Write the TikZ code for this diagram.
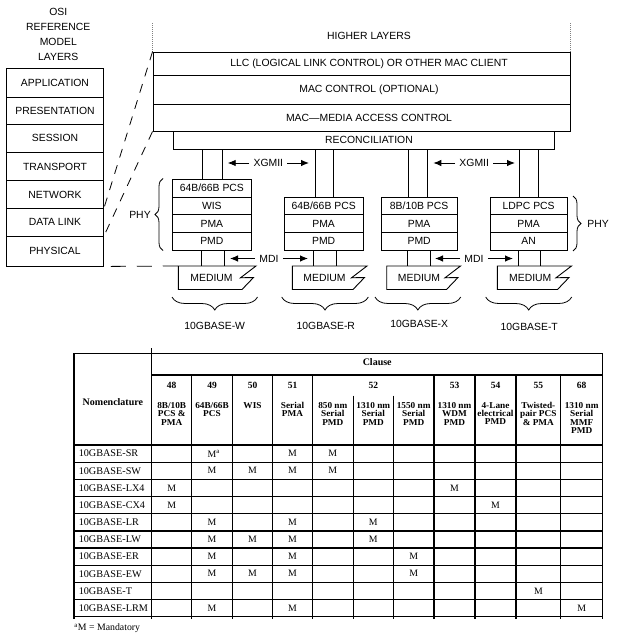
\documentclass[tikz,border=0pt]{standalone}
\usepackage{fontspec}
\setmainfont{Liberation Sans}
\newfontfamily\tms{Liberation Serif}
\newfontfamily\tmsw[FakeStretch=1.03]{Liberation Serif}
\usetikzlibrary{arrows.meta,decorations.pathreplacing}
\newcommand\bx[6]{\node[draw,inner sep=0pt,minimum width={(#4-#2)*1pt},minimum height={(#5-#3)*1pt}] (#1) at ({(#2+#4)/2},{(#3+#5)/2}) {#6};}
\newcommand\medshape[4]{%
  \coordinate (#1tl) at (#2,266);
  \draw (#1tl) -- (#3,266) -- (#3-15.5,277.8) -- (#3-2.5,277.5) -- (#3-14,289.5) -- (#2,289.5) -- cycle;
  \node (#1) at (#4,277.5) {MEDIUM};}
\begin{document}
\begin{tikzpicture}[x=1pt,y=-1pt,line width=0.9pt,font=\fontsize{10.4}{12.5}\selectfont,
  arr/.style={-{Latex[length=8pt,width=6.5pt]}},
  lbl/.style={inner sep=4pt},
  brc/.style={decorate,line width=0.8pt},
  dsh/.style={dash pattern=on 9pt off 8pt, line width=0.8pt},
  dotl/.style={gray, line width=1.3pt, dash pattern=on 1pt off 1pt},
  tl/.style={line width=1.3pt},
  thd/.style={font=\tms\bfseries\fontsize{10}{12}\selectfont, inner sep=0pt},
  tnum/.style={font=\tms\bfseries\fontsize{9.5}{11}\selectfont, inner sep=0pt},
  tdesc/.style={font=\tmsw\bfseries\fontsize{9}{8.3}\selectfont, align=center, anchor=north, inner sep=0pt},
  tdat/.style={font=\tms\fontsize{10.2}{12}\selectfont, inner sep=0pt},
  tm/.style={font=\tms\fontsize{9.8}{12}\selectfont, inner sep=0pt}]
\useasboundingbox (0,0) rectangle (618,636);

% OSI column
\node[align=center,font=\fontsize{10.4}{15}\selectfont] (osit) at (58.3,34.7) {OSI\\REFERENCE\\MODEL\\LAYERS};
\bx{osi1}{6.7}{68.3}{103.3}{97.3}{APPLICATION}
\bx{osi2}{6.7}{97.3}{103.3}{124.3}{PRESENTATION}
\bx{osi3}{6.7}{124.3}{103.3}{152.3}{SESSION}
\bx{osi4}{6.7}{152.3}{103.3}{180.7}{TRANSPORT}
\bx{osi5}{6.7}{180.7}{103.3}{208.3}{NETWORK}
\bx{osi6}{6.7}{208.3}{103.3}{236}{DATA LINK}
\bx{osi7}{6.7}{236}{103.3}{266}{PHYSICAL}

% upper layers
\node (hl) at (369,36) {HIGHER LAYERS};
\bx{llc}{153}{52}{570}{75.3}{}
\bx{macc}{153}{75.3}{570}{104.3}{}
\bx{mac}{153}{104.3}{570}{131}{}
\bx{recon}{173.3}{131}{554.3}{149.3}{}
\node (llct) at (369,0 |- llc.center) {LLC (LOGICAL LINK CONTROL) OR OTHER MAC CLIENT};
\node (macct) at (369,0 |- macc.center) {MAC CONTROL (OPTIONAL)};
\node (mact) at (369,0 |- mac.center) {MAC---MEDIA ACCESS CONTROL};
\node (recont) at (369,0 |- recon.center) {RECONCILIATION};
\draw[dotl] (llc.north west) -- (llc.north west |- 0,22);
\draw[dotl] (llc.north east) -- (llc.north east |- 0,22);

% PHY stacks
\bx{s1a}{172}{179}{251.7}{197}{64B/66B PCS}
\bx{s1b}{172}{197}{251.7}{214.5}{WIS}
\bx{s1c}{172}{214.5}{251.7}{232.5}{PMA}
\bx{s1d}{172}{232.5}{251.7}{250}{PMD}
\bx{s2a}{284}{197}{363.3}{214.5}{64B/66B PCS}
\bx{s2b}{284}{214.5}{363.3}{232.5}{PMA}
\bx{s2c}{284}{232.5}{363.3}{250}{PMD}
\bx{s3a}{381}{197}{457.3}{214.5}{8B/10B PCS}
\bx{s3b}{381}{214.5}{457.3}{232.5}{PMA}
\bx{s3c}{381}{232.5}{457.3}{250}{PMD}
\bx{s4a}{490}{197}{567.3}{214.5}{LDPC PCS}
\bx{s4b}{490}{214.5}{567.3}{232.5}{PMA}
\bx{s4c}{490}{232.5}{567.3}{250}{AN}

% media
\medshape{m1}{178.3}{256}{211.5}
\medshape{m2}{292.3}{367}{324.5}
\medshape{m3}{386.7}{460.5}{419}
\medshape{m4}{497.3}{571.5}{530.3}

% verticals
\foreach \x/\s in {202.7/s1a,222/s1a,315.5/s2a,333.3/s2a,408.5/s3a,427.7/s3a,519/s4a,538.3/s4a}
  \draw (\x,0 |- recon.south) -- (\x,0 |- \s.north);
\foreach \x/\s/\m in {201.3/s1d/m1,224/s1d/m1,313.3/s2c/m2,336/s2c/m2,407.3/s3c/m3,430/s3c/m3,518.3/s4c/m4,540.7/s4c/m4}
  \draw (\x,0 |- \s.south) -- (\x,0 |- \m tl);

% dashed correspondences
\draw[dsh] (llc.north west) -- (osi5.south east);
\draw[dsh] (mac.south west) -- (osi6.south east);
\draw[line width=0.8pt, dash pattern=on 15pt off 11pt, dash phase=19pt] (osi7.south east) -- (m1tl);

% interface arrows
\node[lbl] (xg1) at (268.3,163) {XGMII};
\coordinate (xg1l) at (227.7,163); \coordinate (xg1r) at (309,163);
\draw[arr] (xg1.west) -- (xg1l); \draw[arr] (xg1.east) -- (xg1r);
\node[lbl] (xg2) at (474.2,163) {XGMII};
\coordinate (xg2l) at (433.3,163); \coordinate (xg2r) at (515,163);
\draw[arr] (xg2.west) -- (xg2l); \draw[arr] (xg2.east) -- (xg2r);
\node[lbl] (md1) at (269,258.5) {MDI};
\coordinate (md1l) at (230,258.5); \coordinate (md1r) at (308,258.5);
\draw[arr] (md1.west) -- (md1l); \draw[arr] (md1.east) -- (md1r);
\node[lbl] (md2) at (474,258.5) {MDI};
\coordinate (md2l) at (435,258.5); \coordinate (md2r) at (513,258.5);
\draw[arr] (md2.west) -- (md2l); \draw[arr] (md2.east) -- (md2r);

% PHY braces
\coordinate (pr1) at (573,196); \coordinate (pr2) at (573,251);
\draw[brc,decoration={brace,amplitude=8pt}] (pr1) -- (pr2);
\node (phyr) at (598,224) {PHY};
\coordinate (pl1) at (163,250.5); \coordinate (pl2) at (163,178.5);
\draw[brc,decoration={brace,amplitude=8pt}] (pl1) -- (pl2);
\node (phyl) at (140,215) {PHY};

% bottom braces
\coordinate (b1r) at (257.5,297); \coordinate (b1l) at (172,297);
\draw[brc,decoration={brace,amplitude=13pt}] (b1r) -- (b1l);
\node (gw) at (214.7,325.7) {10GBASE-W};
\coordinate (b2r) at (368.3,297); \coordinate (b2l) at (281.7,297);
\draw[brc,decoration={brace,amplitude=13pt}] (b2r) -- (b2l);
\node (gr) at (325.8,325.7) {10GBASE-R};
\coordinate (b3r) at (460.7,297); \coordinate (b3l) at (375,297);
\draw[brc,decoration={brace,amplitude=13pt}] (b3r) -- (b3l);
\node (gx) at (419.2,323.5) {10GBASE-X};
\coordinate (b4r) at (571.7,297); \coordinate (b4l) at (485.7,297);
\draw[brc,decoration={brace,amplitude=13pt}] (b4r) -- (b4l);
\node (gt) at (529.2,326.5) {10GBASE-T};

% table grid
\draw[tl] (74,353.3) -- (602.7,353.3);
\draw[tl] (151.7,375) -- (602.7,375);
\foreach \i in {0,...,10} \draw[tl] (74,{445+17.17*\i}) -- (602.7,{445+17.17*\i});
\draw[tl] (74,353.3) -- (74,618.5);
\draw[tl] (602.7,353.3) -- (602.7,618.5);
\draw[tl] (151.7,348) -- (151.7,618.5);
\foreach \x in {191.7,232.3,272.7,312.3,434,475,516,560.7} \draw[tl] (\x,375) -- (\x,618.5);
\foreach \x in {353.3,393.3} \draw[tl] (\x,395.7) -- (\x,618.5);

% table header
\node[thd] (clause) at (377.2,362.3) {Clause};
\node[thd] (nomen) at (112.9,401.7) {Nomenclature};
\foreach \t/\x in {48/171.7,49/212,50/252.5,51/292.5,52/373.3,53/454.5,54/495.5,55/538.35,68/581.7}
  \node[tnum] (n\t) at (\x,385) {\t};
\node[tdesc] (d48) at (171.7,402) {8B/10B\\PCS \&\\PMA};
\node[tdesc] (d49) at (212,402) {64B/66B\\PCS};
\node[tdesc] (d50) at (252.5,402) {WIS};
\node[tdesc] (d51) at (292.5,402) {Serial\\PMA};
\node[tdesc] (d52a) at (332.8,402) {850 nm\\Serial\\PMD};
\node[tdesc] (d52b) at (373.3,402) {1310 nm\\Serial\\PMD};
\node[tdesc] (d52c) at (413.7,402) {1550 nm\\Serial\\PMD};
\node[tdesc] (d53) at (454.5,402) {1310 nm\\WDM\\PMD};
\node[tdesc] (d54) at (495.5,402) {4-Lane\\electrical\\PMD};
\node[tdesc] (d55) at (538.35,402) {Twisted-\\pair PCS\\\& PMA};
\node[tdesc] (d68) at (581.7,402) {1310 nm\\Serial\\MMF\\PMD};

% table body
\foreach \n [count=\i] in {SR,SW,LX4,CX4,LR,LW,ER,EW,T,LRM}
  \node[tdat,anchor=west] (r\i) at (78.3,{445+17.17*(\i-0.5)}) {10GBASE-\n};
\node[tm] (ma) at (212,{445+17.17*0.5}) {M\rlap{\textsuperscript{a}}};
\foreach \r/\x [count=\k] in {1/292.5,1/332.8,
  2/212,2/252.5,2/292.5,2/332.8,
  3/171.7,3/454.5,
  4/171.7,4/495.5,
  5/212,5/292.5,5/373.3,
  6/212,6/252.5,6/292.5,6/373.3,
  7/212,7/292.5,7/413.7,
  8/212,8/252.5,8/292.5,8/413.7,
  9/538.35,
  10/212,10/292.5,10/581.7}
  \node[tm] (mk\k) at (\x,{445+17.17*(\r-0.5)}) {M};
\node[tm,anchor=west] (fn) at (74,628.3) {\textsuperscript{a}M = Mandatory};
\end{tikzpicture}
\end{document}
